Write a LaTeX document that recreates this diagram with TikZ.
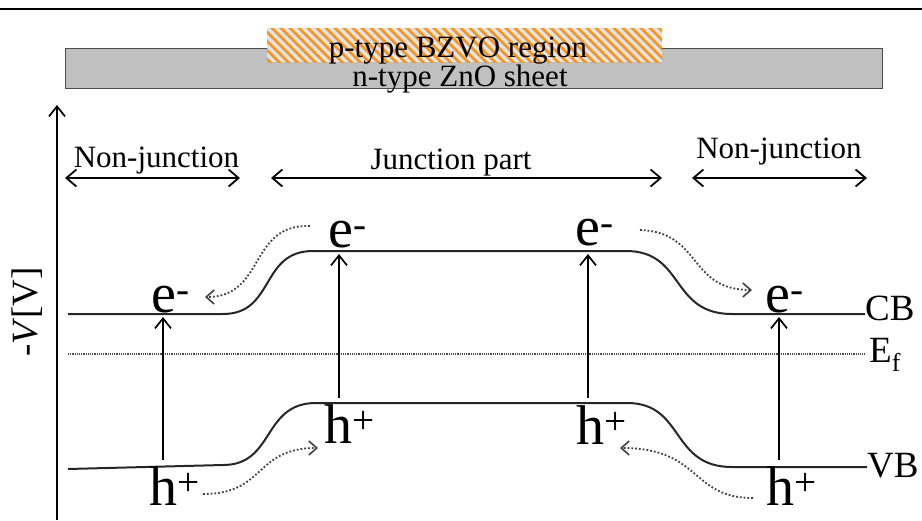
\documentclass[tikz,border=0pt]{standalone}
\usepackage{fontspec}
\setmainfont{Liberation Serif}
\usetikzlibrary{arrows.meta}
\definecolor{hatchorange}{RGB}{247,148,29}
\definecolor{sheetgray}{RGB}{192,192,192}
\definecolor{hatchbg}{RGB}{228,228,228}
\begin{document}
\begin{tikzpicture}[x=1pt,y=-1pt,
  tipone/.style={-{Straight Barb[length=10pt,width=16pt,line width=1.7pt]}},
  tiptwo/.style={{Straight Barb[length=10pt,width=17pt,line width=1.8pt]}-{Straight Barb[length=10pt,width=17pt,line width=1.8pt]}},
  bandline/.style={line width=2pt, draw=black!85},
  carrier/.style={font=\fontsize{56}{60}\selectfont, inner sep=0pt, anchor=base west},
  lbl/.style={font=\fontsize{31}{34}\selectfont, inner sep=0pt, anchor=base},
  side/.style={font=\fontsize{37}{40}\selectfont, inner sep=0pt, anchor=base west},
  flow/.style={dotted, line width=1.8pt, draw=black!75, -{Straight Barb[length=8pt,width=14pt,line width=1.6pt]}},
]
\useasboundingbox (0,0) rectangle (922,520);
% top rule
\coordinate (ruleL) at (0,9);
\coordinate (ruleR) at (922,9);
\draw[line width=2.5pt] (ruleL) -- (ruleR);

% n-type sheet
\node[draw=black!70, fill=sheetgray, line width=1.2pt, minimum width=817pt, minimum height=40pt,
      inner sep=0pt, anchor=north west] (sheet) at (65,48) {};
% p-type region (hatched)
\begin{scope}
  \clip (267,28) rectangle (662,62);
  \fill[hatchbg] (267,28) rectangle (662,62);
  \foreach \x in {225,234,...,670} {
    \draw[hatchorange, line width=2.6pt] (\x,26) -- (\x+38,64);
  }
\end{scope}
\node[lbl] (ptxt) at (458,57) {p-type BZVO region};
\node[lbl] (ntxt) at (460,86) {n-type ZnO sheet};

% axis
\coordinate (axB) at (57,520);
\coordinate (axT) at (57,105);
\draw[line width=2pt, tipone] (axB) -- (axT);
\node[font=\fontsize{37}{40}\selectfont, rotate=90, inner sep=0pt] (axlbl) at (27,312) {-\textit{V}[V]};

% region labels and arrows
\node[lbl] (nj1) at (156.5,167) {Non-junction};
\node[lbl] (jp) at (451,169) {Junction part};
\node[lbl] (nj2) at (779,158) {Non-junction};
\coordinate (a1L) at (65,178);  \coordinate (a1R) at (240,178);
\coordinate (a2L) at (271,178); \coordinate (a2R) at (662,178);
\coordinate (a3L) at (692,178); \coordinate (a3R) at (867,178);
\draw[line width=2pt, tiptwo] (a1L) -- (a1R);
\draw[line width=2pt, tiptwo] (a2L) -- (a2R);
\draw[line width=2pt, tiptwo] (a3L) -- (a3R);

% Fermi level
\coordinate (efL) at (68,354);
\coordinate (efR) at (865,354);
\draw[densely dotted, line width=1.2pt, black!70] (efL) -- (efR);

% conduction band
\coordinate (cbL) at (68,314);
\coordinate (cbR) at (865,314);
\draw[bandline] (cbL) -- (223,314) .. controls (275,314) and (260,251) .. (313,251)
  -- (626,251) .. controls (685,251) and (670,314) .. (732,314) -- (cbR);
% valence band
\coordinate (vbL) at (68,469);
\coordinate (vbR) at (867,467);
\draw[bandline] (vbL) -- (223,465) .. controls (275,465) and (262,403) .. (316,403)
  -- (627,403) .. controls (685,403) and (670,467) .. (732,467) -- (vbR);

\node[side] (cb) at (865,320) {CB};
\node[side] (ef) at (869,362) {E\textsubscript{f}};
\node[side] (vb) at (867,477) {VB};

% carriers
\node[carrier] (e1) at (151,312) {e\textsuperscript{-}};
\node[carrier] (e2) at (328,247) {e\textsuperscript{-}};
\node[carrier] (e3) at (575,245) {e\textsuperscript{-}};
\node[carrier] (e4) at (765,312) {e\textsuperscript{-}};
\node[carrier] (h1) at (149,505) {h\textsuperscript{+}};
\node[carrier] (h2) at (324,443) {h\textsuperscript{+}};
\node[carrier] (h3) at (576,444) {h\textsuperscript{+}};
\node[carrier] (h4) at (766,505) {h\textsuperscript{+}};

% excitation arrows
\coordinate (x1b) at (163,460); \coordinate (x1t) at (163,317);
\coordinate (x2b) at (339,398); \coordinate (x2t) at (339,254);
\coordinate (x3b) at (588,398); \coordinate (x3t) at (588,254);
\coordinate (x4b) at (779,460); \coordinate (x4t) at (779,317);
\draw[line width=1.7pt, tipone] (x1b) -- (x1t);
\draw[line width=1.7pt, tipone] (x2b) -- (x2t);
\draw[line width=1.7pt, tipone] (x3b) -- (x3t);
\draw[line width=1.7pt, tipone] (x4b) -- (x4t);

% carrier flows
\coordinate (f1s) at (310,226); \coordinate (f1e) at (205,297);
\coordinate (f2s) at (640,230); \coordinate (f2e) at (752,290);
\coordinate (f3s) at (203,494); \coordinate (f3e) at (318,448);
\coordinate (f4s) at (753,498); \coordinate (f4e) at (620,448);
\draw[flow] (f1s) .. controls (248,224) and (266,297) .. (f1e);
\draw[flow] (f2s) .. controls (702,232) and (688,290) .. (f2e);
\draw[flow] (f3s) .. controls (266,494) and (254,448) .. (f3e);
\draw[flow] (f4s) .. controls (690,498) and (702,448) .. (f4e);
\end{tikzpicture}
\end{document}
